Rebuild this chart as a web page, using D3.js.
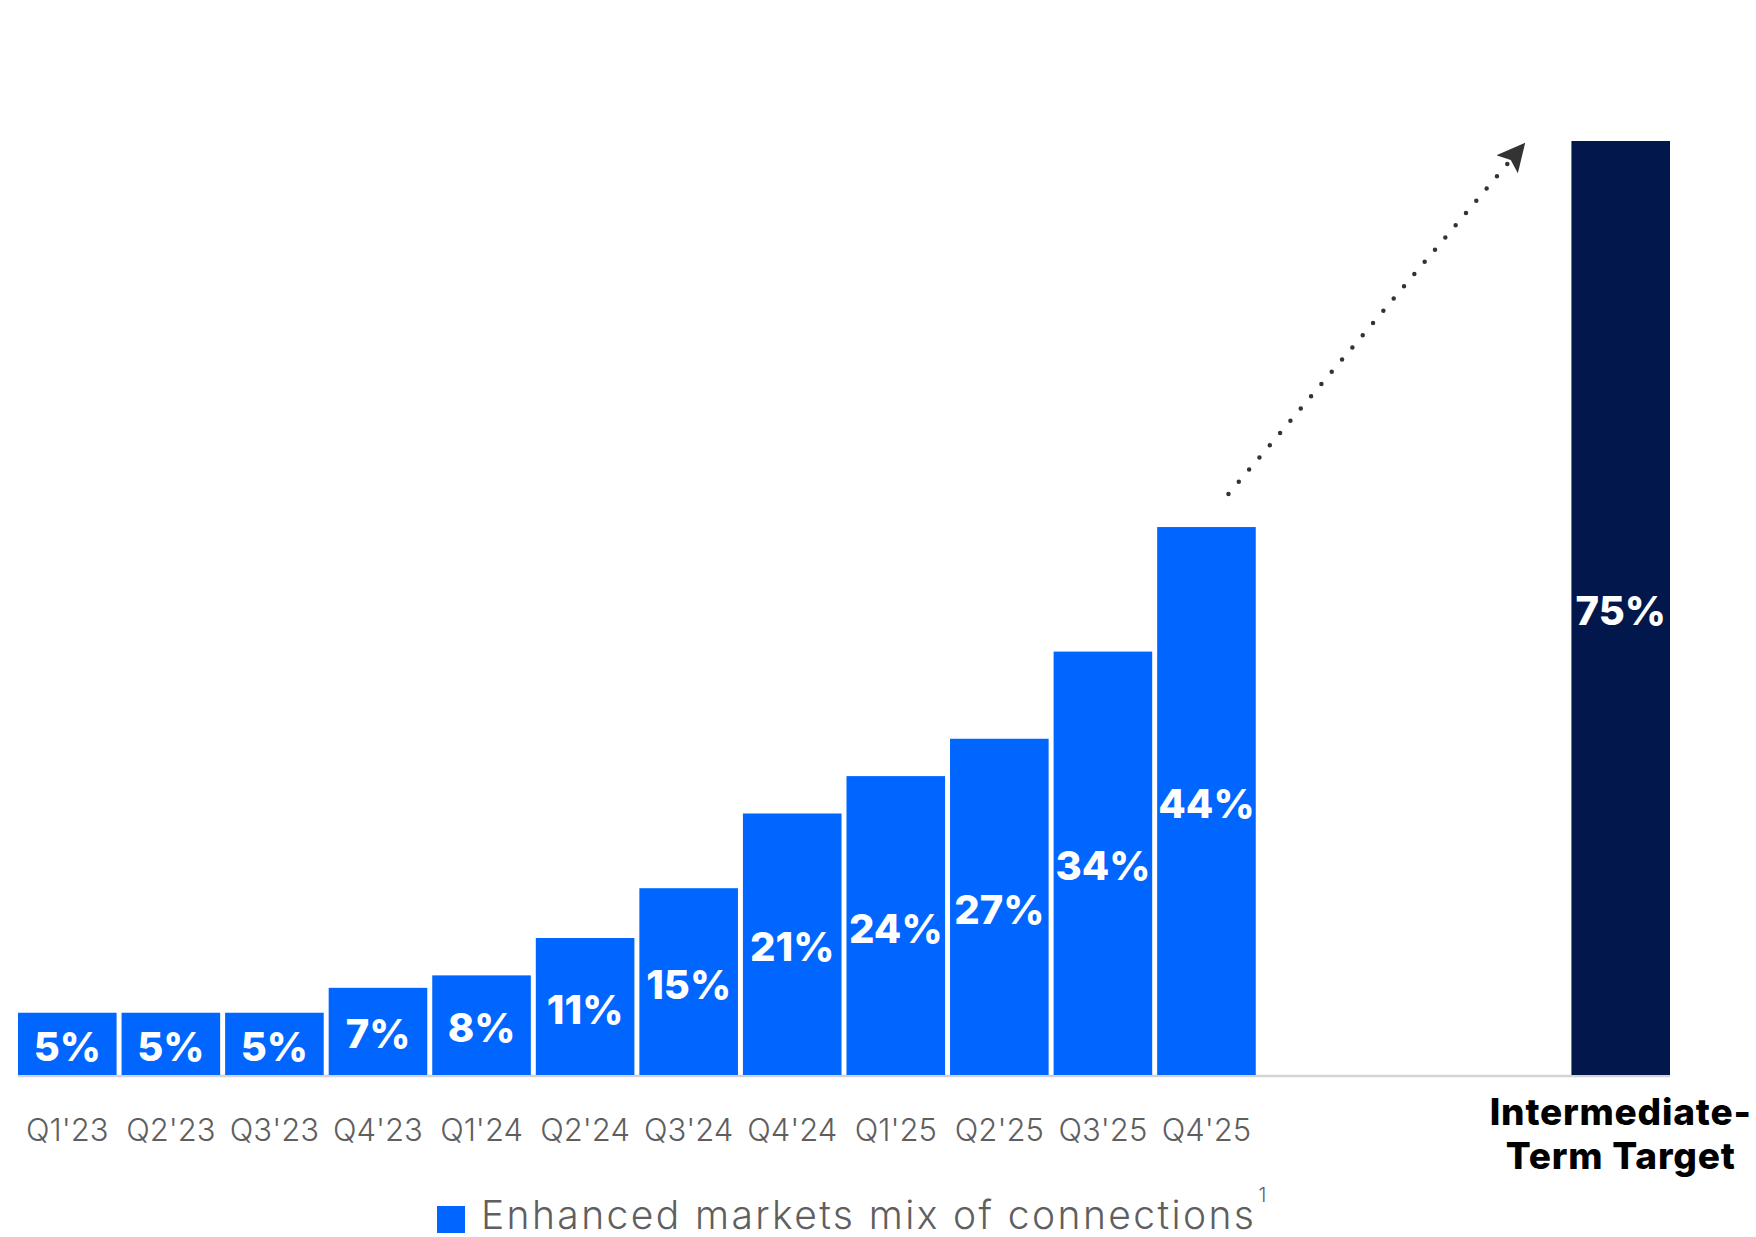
<!DOCTYPE html>
<html>
<head>
<meta charset="utf-8">
<script src="https://cdn.jsdelivr.net/npm/d3@7"></script>
<style>
  body { margin: 0; background: #fff; }
  svg { display: block; }
</style>
</head>
<body>
<script>
const quarters = ["Q1'23", "Q2'23", "Q3'23", "Q4'23", "Q1'24", "Q2'24", "Q3'24", "Q4'24", "Q1'25", "Q2'25", "Q3'25", "Q4'25"];
const mix = [5, 5, 5, 7, 8, 11, 15, 21, 24, 27, 34, 44];
const targetName = "target";
const targetValue = 75;
const targetLines = ["Intermediate-", "Term Target"];
const legendText = "Enhanced markets mix of connections";
const footnote = "1";

const width = 1756, height = 1237;
const margin = { top: 141, right: 86, bottom: 162, left: 18 };
const baseline = height - margin.bottom;

// three empty slots between the last quarter and the target bar
const slots = quarters.concat(["_a", "_b", "_c", targetName]);

const x = d3.scaleBand()
    .domain(slots)
    .range([margin.left, width - margin.right])
    .paddingInner(0.048)
    .paddingOuter(0);
const y = d3.scaleLinear().domain([0, targetValue]).range([baseline, margin.top]);

const svg = d3.select("body").append("svg")
    .attr("width", width)
    .attr("height", height);

const bars = quarters.map((q, i) => ({ key: q, value: mix[i], color: "#0066ff" }));
bars.push({ key: targetName, value: targetValue, color: "#02184d" });

// baseline rule
svg.append("line")
    .attr("x1", x(quarters[0]))
    .attr("x2", x(targetName) + x.bandwidth())
    .attr("y1", baseline + 1)
    .attr("y2", baseline + 1)
    .attr("stroke", "#d4d4d4")
    .attr("stroke-width", 2.5);

svg.append("g").selectAll("rect")
    .data(bars)
    .enter().append("rect")
    .attr("x", d => x(d.key))
    .attr("y", d => y(d.value))
    .attr("width", x.bandwidth())
    .attr("height", d => baseline - y(d.value))
    .attr("fill", d => d.color);

svg.append("g").selectAll("text")
    .data(bars)
    .enter().append("text")
    .attr("x", d => x(d.key) + x.bandwidth() / 2)
    .attr("y", d => (y(d.value) + baseline) / 2 + 17)
    .attr("text-anchor", "middle")
    .attr("fill", "#fff")
    .attr("font-family", "Inter, sans-serif")
    .attr("font-weight", 800)
    .attr("font-size", 40)
    .text(d => d.value + "%");

// category labels
svg.append("g").selectAll("text")
    .data(quarters)
    .enter().append("text")
    .attr("x", d => x(d) + x.bandwidth() / 2)
    .attr("y", baseline + 66)
    .attr("text-anchor", "middle")
    .attr("fill", "#5f5f5f")
    .attr("font-family", "Inter, sans-serif")
    .attr("font-weight", 300)
    .attr("font-size", 31)
    .text(d => d);

svg.append("text")
    .attr("x", x(targetName) + x.bandwidth() / 2)
    .attr("y", baseline + 50)
    .attr("text-anchor", "middle")
    .attr("fill", "#000")
    .attr("font-family", "Inter, sans-serif")
    .attr("font-weight", 800)
    .attr("font-size", 37)
    .attr("letter-spacing", 0.8)
    .selectAll("tspan")
    .data(targetLines)
    .enter().append("tspan")
    .attr("x", x(targetName) + x.bandwidth() / 2)
    .attr("dy", (d, i) => i === 0 ? 0 : 44)
    .text(d => d);

// dotted trend arrow from the last quarter to the target
svg.append("defs").append("marker")
    .attr("id", "head")
    .attr("viewBox", "0 0 10 10")
    .attr("refX", 9)
    .attr("refY", 5)
    .attr("markerWidth", 28)
    .attr("markerHeight", 28)
    .attr("markerUnits", "userSpaceOnUse")
    .attr("orient", "auto")
    .append("path")
    .attr("d", "M0,0 L10,5 L0,10 L2,5 Z")
    .attr("fill", "#333");

const last = quarters[quarters.length - 1];
const x0 = x(last) + x.bandwidth() / 2 + 22, y0 = y(mix[mix.length - 1]) - 33;
const x1 = x(targetName) - 48, y1 = y(targetValue) + 4;
const ang = Math.atan2(y1 - y0, x1 - x0);

svg.append("line")
    .attr("x1", x0).attr("y1", y0)
    .attr("x2", x1 - 16 * Math.cos(ang)).attr("y2", y1 - 16 * Math.sin(ang))
    .attr("stroke", "#333")
    .attr("stroke-width", 4.5)
    .attr("stroke-linecap", "round")
    .attr("stroke-dasharray", "0 16");

svg.append("line")
    .attr("x1", x1 - 10 * Math.cos(ang)).attr("y1", y1 - 10 * Math.sin(ang))
    .attr("x2", x1).attr("y2", y1)
    .attr("stroke", "none")
    .attr("marker-end", "url(#head)");

// legend
const legend = svg.append("g").attr("transform", `translate(437, ${baseline + 131})`);
legend.append("rect")
    .attr("width", 28)
    .attr("height", 27)
    .attr("fill", "#0066ff");
const lt = legend.append("text")
    .attr("x", 44)
    .attr("y", 23)
    .attr("fill", "#5f5f5f")
    .attr("font-family", "Inter, sans-serif")
    .attr("font-weight", 300)
    .attr("font-size", 39)
    .attr("letter-spacing", 2.4)
    .text(legendText);
legend.append("text")
    .attr("x", 44 + lt.node().getComputedTextLength() + 2)
    .attr("y", -4)
    .attr("fill", "#5f5f5f")
    .attr("font-family", "Inter, sans-serif")
    .attr("font-weight", 300)
    .attr("font-size", 20)
    .text(footnote);
</script>
</body>
</html>
